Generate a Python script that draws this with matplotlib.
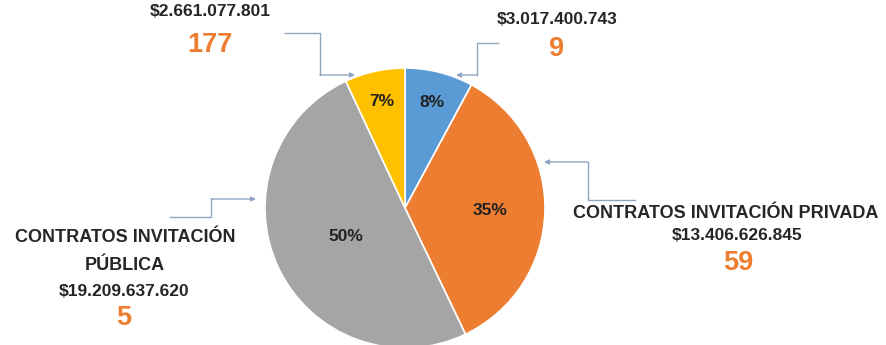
import matplotlib
matplotlib.use("Agg")
import matplotlib.pyplot as plt
import numpy as np

plt.rcParams['font.family'] = ['Liberation Sans', 'DejaVu Sans']

# ---- data ----
categories = ["CONTRATOS DIRECTOS", "CONTRATOS INVITACIÓN PRIVADA",
              "CONTRATOS INVITACIÓN PÚBLICA", "OTROS CONTRATOS"]
amounts = [3017400743, 13406626845, 19209637620, 2661077801]
amount_labels = ["$3.017.400.743", "$13.406.626.845", "$19.209.637.620", "$2.661.077.801"]
counts = [9, 59, 5, 177]
colors = ["#5B9BD5", "#ED7D31", "#A5A5A5", "#FFC000"]

W, H = 887, 345
fig = plt.figure(figsize=(W / 100, H / 100), dpi=100)
ax = fig.add_axes([0, 0, 1, 1])

def Y(y):
    return H - y

cx, cy, r = 405, 208, 140
wedges, texts, autotexts = ax.pie(
    amounts, colors=colors, startangle=90, counterclock=False,
    center=(cx, Y(cy)), radius=r,
    wedgeprops=dict(edgecolor='white', linewidth=1.2),
    autopct=lambda p: f"{p:.0f}%", pctdistance=0.6,
    textprops=dict(fontsize=12.5, fontweight='bold', color='#222222'))

# per-wedge label distances
dists = [0.78, 0.61, 0.47, 0.78]
for w, t, d in zip(wedges, autotexts, dists):
    ang = np.deg2rad((w.theta1 + w.theta2) / 2)
    t.set_position((cx + d * r * np.cos(ang), Y(cy) + d * r * np.sin(ang)))

ax.set_xlim(0, W)
ax.set_ylim(0, H)
ax.set_aspect('equal')
ax.set_axis_off()

txt = dict(fontweight='bold', color='#262626', ha='center', va='center')
num = dict(fontweight='bold', color='#ED7D31', ha='center', va='center', fontsize=19.5)
fs_title = 13
fs_amt = 12.5

# top-left (yellow)
ax.text(210, Y(12), amount_labels[3], fontsize=fs_amt, **txt)
ax.text(210, Y(45), str(counts[3]), **num)
# top-right (blue)
ax.text(557, Y(19), amount_labels[0], fontsize=fs_amt, **txt)
ax.text(557, Y(49), str(counts[0]), **num)
# right (orange)
ax.text(726, Y(214), "CONTRATOS INVITACIÓN PRIVADA", fontsize=fs_title, **txt)
ax.text(737, Y(236), amount_labels[1], fontsize=fs_amt, **txt)
ax.text(738, Y(263), str(counts[1]), **num)
# left (gray)
ax.text(125, Y(238), "CONTRATOS INVITACIÓN", fontsize=fs_title, **txt)
ax.text(125, Y(266), "PÚBLICA", fontsize=fs_title, **txt)
ax.text(124, Y(291), amount_labels[2], fontsize=fs_amt, **txt)
ax.text(124, Y(318), str(counts[2]), **num)

# connectors
lc = '#8EA4C0'
def connector(pts):
    xs = [p[0] for p in pts]
    ys = [Y(p[1]) for p in pts]
    ax.plot(xs[:-1], ys[:-1], color=lc, lw=1)
    ax.annotate('', xy=(xs[-1], ys[-1]), xytext=(xs[-2], ys[-2]),
                arrowprops=dict(arrowstyle='-|>', color=lc, lw=1,
                                mutation_scale=7, shrinkA=0, shrinkB=0))

connector([(285, 33), (320, 33), (320, 75), (355, 75)])
connector([(498, 43), (477, 43), (477, 75), (456, 75)])
connector([(635, 200), (588, 200), (588, 162), (544, 162)])
connector([(170, 217), (211, 217), (211, 199), (256, 199)])

fig.savefig("out.png", dpi=100)
